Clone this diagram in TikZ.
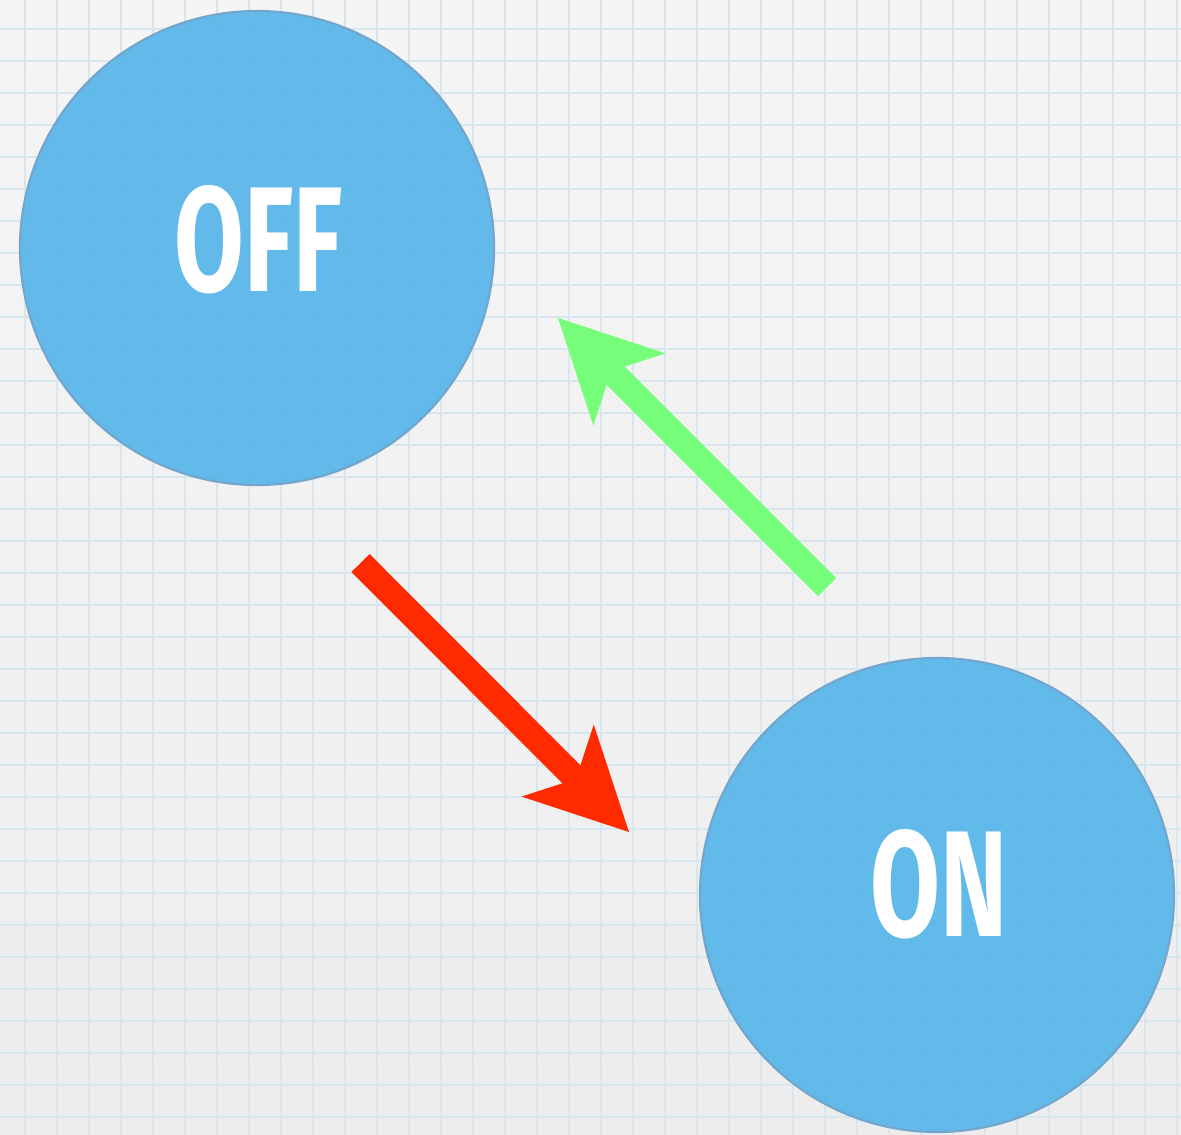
\documentclass[tikz,border=0pt]{standalone}
\usepackage{fontspec}
\setmainfont{Fira Sans}
\usepackage{graphicx}
\usetikzlibrary{arrows.meta}
\definecolor{bgtop}{RGB}{245,245,245}
\definecolor{bgbot}{RGB}{237,237,237}
\definecolor{gridc}{RGB}{214,231,239}
\definecolor{stfill}{RGB}{90,183,234}
\definecolor{stline}{RGB}{114,166,204}
\definecolor{grn}{RGB}{118,253,121}
\definecolor{rd}{RGB}{255,42,0}
\tikzset{
  gridline/.style={draw=gridc, line width=2.6pt},
  statenode/.style={circle, fill=stfill, fill opacity=0.94, draw=stline, line width=2.2pt, minimum size=474pt, inner sep=0pt},
  statetext/.style={text=white, inner sep=0pt, font=\bfseries},
  bigarrow/.style={line width=25.5pt, -{Stealth[length=101pt,width=102pt,inset=26pt,line width=0pt]}},
}
\begin{document}
\begin{tikzpicture}[x=1pt,y=-1pt]
\shade[top color=bgtop,bottom color=bgbot] (0,0) rectangle (1181,1135);
\useasboundingbox (0,0) rectangle (1181,1135);
\foreach \i in {0,...,36} \draw[gridline] ({25+32*\i},0) -- ({25+32*\i},1135);
\foreach \j in {0,...,35} \draw[gridline] (0,{29+32*\j}) -- (1181,{29+32*\j});
\node[statenode] (off) at (257,248) {};
\node[statenode] (on) at (937,895) {};
\node[statetext] (offtxt) at (259,240) {\resizebox{168pt}{106pt}{OFF}};
\node[statetext] (ontxt) at (939.5,884.5) {\resizebox{137pt}{107pt}{ON}};
\coordinate (gTail) at (827,587);
\coordinate (gTip) at (558,318);
\coordinate (rTail) at (360.5,563);
\coordinate (rTip) at (629,832);
\draw[bigarrow, draw=grn, fill=grn] (gTail) -- (gTip);
\draw[bigarrow, draw=rd, fill=rd] (rTail) -- (rTip);
\end{tikzpicture}
\end{document}
